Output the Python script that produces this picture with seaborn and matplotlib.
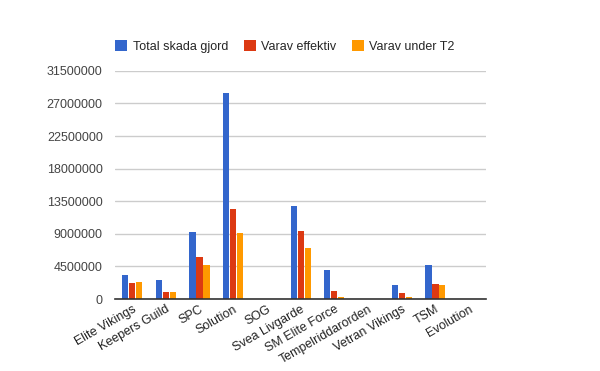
import pandas as pd
import matplotlib
matplotlib.use("Agg")
import matplotlib.pyplot as plt
import seaborn as sns

teams = ["Elite Vikings", "Keepers Guild", "SPC", "Solution", "SOG", "Svea Livgarde",
         "SM Elite Force", "Tempelriddarorden", "Vetran Vikings", "TSM", "Evolution"]
total = [3300000, 2600000, 9250000, 28500000, 0, 12850000, 4000000, 0, 1950000, 4700000, 0]
effektiv = [2200000, 970000, 5800000, 12400000, 0, 9400000, 1100000, 0, 830000, 2070000, 0]
under_t2 = [2350000, 970000, 4700000, 9100000, 0, 7050000, 220000, 0, 220000, 1930000, 0]
series = ["Total skada gjord", "Varav effektiv", "Varav under T2"]
yticks = [0, 4500000, 9000000, 13500000, 18000000, 22500000, 27000000, 31500000]

df = pd.DataFrame({"Lag": teams * 3,
                   "Serie": [series[0]] * 11 + [series[1]] * 11 + [series[2]] * 11,
                   "Skada": total + effektiv + under_t2})

sns.set_style("white")
plt.rcParams["font.family"] = ["Liberation Sans", "DejaVu Sans"]

fig = plt.figure(figsize=(6, 3.71), dpi=100)
ax = fig.add_axes([0.192, 0.194, 0.618, 0.615])
sns.barplot(data=df, x="Lag", y="Skada", hue="Serie",
            palette=["#3366cc", "#dc3912", "#ff9900"], width=0.62, gap=0.12,
            saturation=1, linewidth=0, ax=ax)

ax.set_ylim(0, 31500000)
ax.set_yticks(yticks)
ax.set_yticklabels([str(v) for v in yticks], fontsize=9, color="#444444")
ax.set_xticks(range(len(teams)))
ax.set_xticklabels(teams, rotation=30, ha="right", rotation_mode="anchor",
                   fontsize=9, color="#222222")
ax.tick_params(axis="x", length=0, pad=3)
ax.tick_params(axis="y", length=0, pad=9)
ax.set_xlabel("")
ax.set_ylabel("")
ax.set_xlim(-0.5, len(teams) - 0.5)
ax.grid(axis="y", color="#cccccc", linewidth=1)
ax.set_axisbelow(True)
for s in ["top", "right", "left"]:
    ax.spines[s].set_visible(False)
ax.spines["bottom"].set_color("#333333")
ax.spines["bottom"].set_linewidth(1.2)

ax.legend(loc="lower left", bbox_to_anchor=(0.0, 1.08), ncol=3, frameon=False,
          fontsize=9, handlelength=0.95, handleheight=0.95, handletextpad=0.45,
          columnspacing=1.25, borderaxespad=0, borderpad=0)

fig.savefig("out.png", dpi=100)
